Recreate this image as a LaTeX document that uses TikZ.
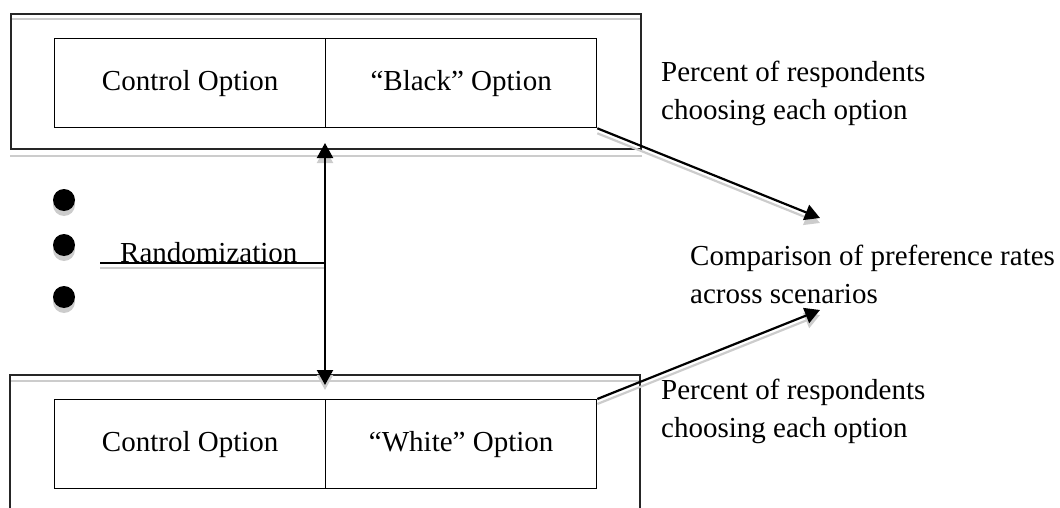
\documentclass[tikz,border=0pt]{standalone}
\usepackage{fontspec}
\setmainfont{Liberation Serif}
\usetikzlibrary{arrows.meta}
\begin{document}
\begin{tikzpicture}[x=1pt,y=-1pt,
  txt/.style={font=\fontsize{29}{38}\selectfont},
  cell/.style={draw=black,line width=1.3pt,minimum height=89pt,minimum width=271pt,inner sep=0pt,anchor=north west,txt},
  frame/.style={draw=black!85,line width=1.6pt},
  shade/.style={draw=black!20,line width=2pt},
  conn/.style={line width=2.2pt,-{Triangle[length=15pt,width=16pt]}},
  label/.style={txt,align=left,inner sep=0pt,anchor=base west},
  dot/.style={circle,fill=black,minimum size=22pt,inner sep=0pt},
  dotshade/.style={circle,fill=black!20,minimum size=22pt,inner sep=0pt}
  ]
\useasboundingbox (0,0) rectangle (1060,508);
% ---------- top block ----------
\node[frame,minimum width=630pt,minimum height=135pt,inner sep=0pt,anchor=north west] (topframe) at (10,13) {};
\draw[shade] ([yshift=-6pt]topframe.north west) -- ([yshift=-6pt]topframe.north east);
\draw[shade] ([yshift=-6pt]topframe.south west) -- ([yshift=-6pt]topframe.south east);
\node[frame,minimum width=630pt,minimum height=135pt,inner sep=0pt,anchor=north west] at (10,13) {};
\node[cell] (tc1) at (54,38) {Control Option};
\node[cell] (tc2) at (325,38) {``Black'' Option};
% ---------- bottom block ----------
\coordinate (bfL) at (10,530);
\coordinate (bfTL) at (10,375);
\coordinate (bfTR) at (640,375);
\coordinate (bfR) at (640,530);
\draw[shade] ([yshift=-6pt]bfTL) -- ([yshift=-6pt]bfTR);
\draw[frame] (bfL) -- (bfTL) -- (bfTR) -- (bfR);
\node[cell] (bc1) at (54,399) {Control Option};
\node[cell] (bc2) at (325,399) {``White'' Option};
% ---------- dots ----------
\foreach \yy/\nm in {200/d1,245/d2,297/d3}{
  \node[dotshade] at (64,\yy+5) {};
  \node[dot] (\nm) at (64,\yy) {};
}
% ---------- randomization ----------
\coordinate (vt) at (325,143);
\coordinate (vb) at (325,385);
\coordinate (r0) at (100,263);
\draw[shade,line width=2.2pt] ([yshift=-5pt]r0) -- ([yshift=-5pt]r0 -| vt);
\node[label] (rand) at (120,262) {Randomization};
\draw[line width=2.2pt] (r0) -- (r0 -| vt);
\draw[draw=black!20,line width=2.2pt,{Triangle[length=15pt,width=16pt]}-{Triangle[length=15pt,width=16pt]},fill=black!20] ([yshift=-5pt]vt) -- ([yshift=-5pt]vb);
\draw[line width=2.2pt,{Triangle[length=15pt,width=16pt]}-{Triangle[length=15pt,width=16pt]}] (vt) -- (vb);
% ---------- right side (base = baseline of last line) ----------
\node[label] (pt) at (661,120) {Percent of respondents\\choosing each option};
\node[label] (pb) at (661,437) {Percent of respondents\\choosing each option};
\node[label] (cmp) at (690,303) {Comparison of preference rates\\across scenarios};
\coordinate (tipA) at (820,218);
\coordinate (tipB) at (820,310);
\draw[shade,line width=2.2pt,-{Triangle[length=15pt,width=16pt]}] ([yshift=-5pt]tc2.south east) -- ([yshift=-5pt]tipA);
\draw[shade,line width=2.2pt,-{Triangle[length=15pt,width=16pt]}] ([yshift=-5pt]bc2.north east) -- ([yshift=-5pt]tipB);
\draw[conn] (tc2.south east) -- (tipA);
\draw[conn] (bc2.north east) -- (tipB);
\end{tikzpicture}
\end{document}
